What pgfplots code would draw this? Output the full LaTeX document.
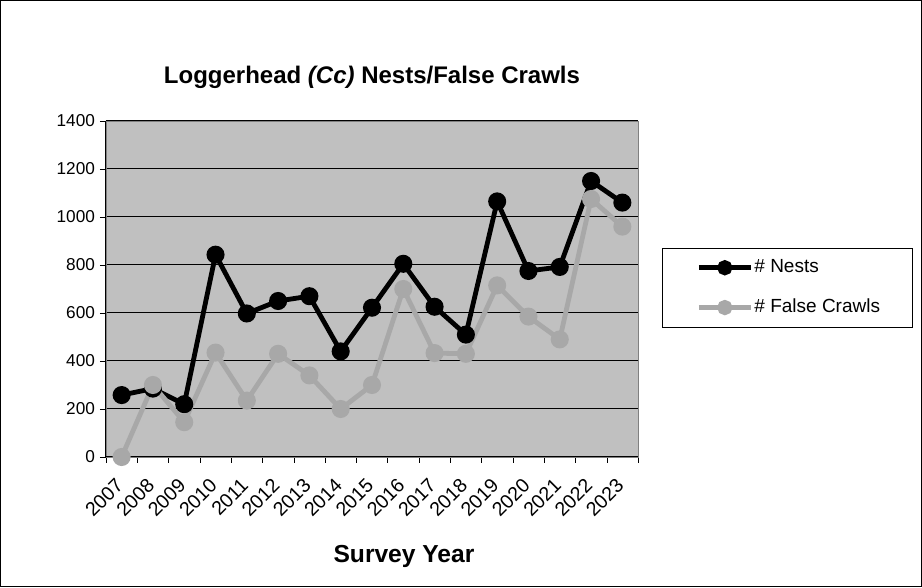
\documentclass[border=0pt]{standalone}
\usepackage{pgfplots}
\pgfplotsset{compat=1.18}
\usepackage{fontspec}
\setmainfont{Liberation Sans}
\definecolor{fcgray}{RGB}{168,168,168}
\definecolor{bggray}{RGB}{192,192,192}
\definecolor{framegray}{RGB}{128,128,128}
\begin{document}
\begin{tikzpicture}
\useasboundingbox (-53pt,-65.5pt) rectangle (408pt,228.5pt);
\draw[black,line width=0.5pt] (-52.5pt,-65pt) rectangle (407.5pt,228pt);
\begin{axis}[
  at={(0pt,0pt)}, anchor=south west,
  scale only axis, width=266pt, height=168pt,
  xmin=-0.5, xmax=16.5, ymin=0, ymax=1400,
  /pgf/number format/assume math mode=true,
  ytick={0,200,...,1400},
  yticklabel style={font=\fontsize{8.6}{10}\selectfont, /pgf/number format/1000 sep={}, xshift=1pt},
  xtick={0,...,16},
  xticklabels={2007,2008,2009,2010,2011,2012,2013,2014,2015,2016,2017,2018,2019,2020,2021,2022,2023},
  xticklabel style={font=\fontsize{9.8}{11}\selectfont, rotate=45, anchor=north east, xshift=-4pt, yshift=1pt},
  major x tick style={draw=none},
  minor xtick={-0.5,0.5,...,16.5},
  minor x tick style={black},
  xtick pos=bottom, ytick pos=left,
  tick align=outside,
  major tick length=3pt, minor tick length=3pt,
  ymajorgrids, major grid style={black, line width=0.5pt},
  axis background/.style={fill=bggray},
  axis line style={framegray},
  y tick style={black},
  title={\bfseries Loggerhead \textit{(Cc)} Nests/False Crawls},
  title style={font=\fontsize{12}{14}\selectfont, yshift=6.5pt},
  xlabel={\bfseries Survey Year},
  xlabel style={font=\fontsize{12.3}{14}\selectfont, yshift=-5.5pt, xshift=16pt},
  legend style={at={(1.045,0.622)}, anchor=north west, draw=black, line width=0.5pt, font=\fontsize{9.5}{11.5}\selectfont, nodes={inner sep=0.6pt}, row sep=10.5pt, inner xsep=15.5pt, inner ysep=5pt},
  legend cell align=left,
  legend image code/.code={\path (-1.5pt,0pt); \draw[#1] (0pt,0pt)--(26pt,0pt); \fill[#1](13pt,0pt) circle (2.6pt);},
  clip=false,
]
\addplot[black, line width=2.4pt, mark=*, mark size=3.3pt] coordinates {
(0,258)(1,285)(2,220)(3,843)(4,598)(5,650)(6,670)(7,440)(8,622)(9,805)(10,626)(11,510)(12,1065)(13,775)(14,792)(15,1150)(16,1060)};
\addlegendentry{\# Nests}
\addplot[fcgray, line width=2.4pt, mark=*, mark size=3.3pt, mark options={fill=fcgray,draw=fcgray}] coordinates {
(0,0)(1,300)(2,145)(3,435)(4,235)(5,430)(6,340)(7,200)(8,300)(9,700)(10,433)(11,430)(12,715)(13,585)(14,490)(15,1075)(16,960)};
\addlegendentry{\# False Crawls}
\draw[black, line width=0.5pt] (axis cs:-0.5,1400) -- (axis cs:-0.5,0) -- (axis cs:16.5,0);
\end{axis}
\end{tikzpicture}
\end{document}
